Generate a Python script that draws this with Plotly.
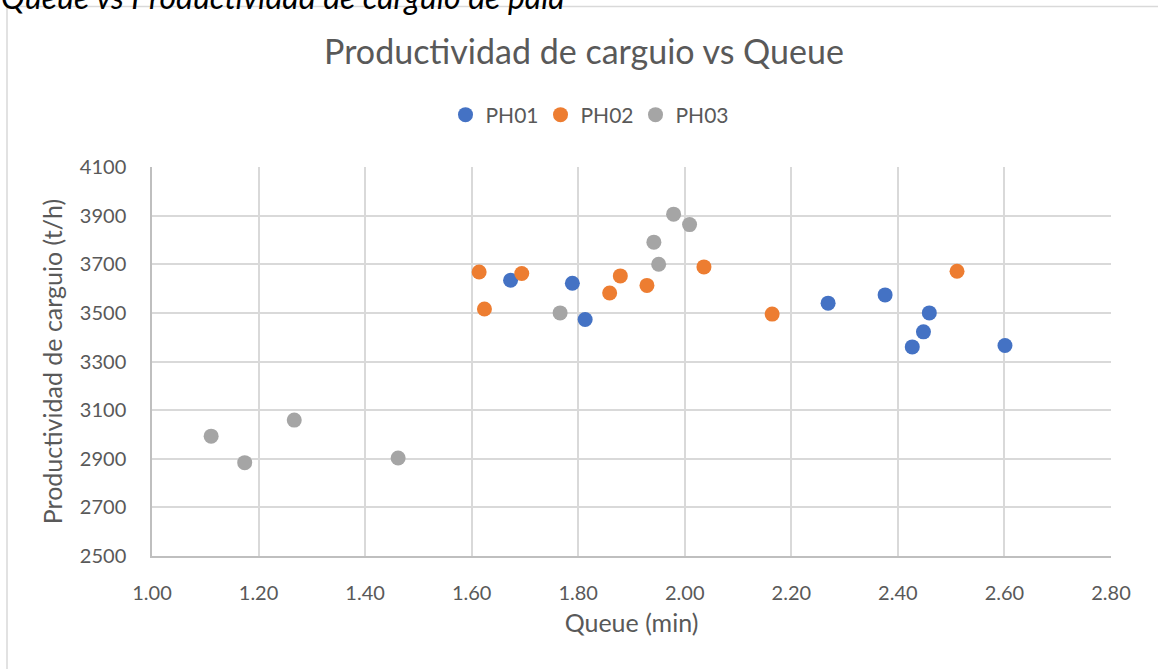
import plotly.graph_objects as go

# ---- data ----
ph01_x = [1.673, 1.789, 1.813, 2.269, 2.376, 2.427, 2.448, 2.459, 2.601]
ph01_y = [3634, 3622, 3473, 3540, 3574, 3360, 3422, 3500, 3366]

ph02_x = [1.614, 1.624, 1.694, 1.859, 1.879, 1.929, 2.036, 2.164, 2.511]
ph02_y = [3668, 3516, 3662, 3582, 3652, 3613, 3689, 3495, 3671]

ph03_x = [1.111, 1.174, 1.267, 1.462, 1.766, 1.942, 1.951, 1.979, 2.009]
ph03_y = [2993, 2884, 3059, 2903, 3500, 3791, 3700, 3906, 3863]

series_names = ["PH01", "PH02", "PH03"]
x_ticks = [1.0, 1.2, 1.4, 1.6, 1.8, 2.0, 2.2, 2.4, 2.6, 2.8]
y_ticks = [2500, 2700, 2900, 3100, 3300, 3500, 3700, 3900, 4100]

colors = ["#4472C4", "#ED7D31", "#A5A5A5"]
FONT = "Lato"
GREY_TXT = "#595959"

W, H = 1158, 669
L, R, T, B = 152, 47, 167, 113
PW, PH = W - L - R, H - T - B


def px_x(p):
    return (p - L) / PW


def px_y(p):
    return (H - B - p) / PH


fig = go.Figure()
for name, xs, ys, c in zip(series_names, [ph01_x, ph02_x, ph03_x],
                           [ph01_y, ph02_y, ph03_y], colors):
    fig.add_trace(go.Scatter(x=xs, y=ys, mode="markers", name=name,
                             marker=dict(color=c, size=15, line=dict(width=0))))

fig.update_layout(
    width=W, height=H,
    margin=dict(l=L, r=R, t=T, b=B),
    paper_bgcolor="white", plot_bgcolor="white",
    font=dict(family=FONT, color=GREY_TXT),
    title=dict(text="Productividad de carguio vs Queue",
               font=dict(family=FONT, size=34, color=GREY_TXT),
               xref="paper", x=px_x(584), xanchor="center",
               yref="container", y=1 - 52 / H, yanchor="middle"),
    legend=dict(orientation="h", xanchor="center", x=px_x(588),
                yanchor="middle", y=px_y(115),
                font=dict(family=FONT, size=21, color=GREY_TXT),
                bgcolor="rgba(0,0,0,0)", itemwidth=30,
                entrywidth=50, entrywidthmode="pixels"),
    showlegend=True,
)

fig.update_xaxes(range=[1.0, 2.8], tickvals=x_ticks,
                 ticktext=[f"{v:.2f}" for v in x_ticks],
                 showgrid=True, gridcolor="#d9d9d9", gridwidth=1.5,
                 showline=True, linecolor="#bfbfbf", linewidth=1.5,
                 zeroline=False, ticks="", ticklabelstandoff=18,
                 tickfont=dict(family=FONT, size=20, color=GREY_TXT),
                 title=dict(text="Queue (min)", standoff=12,
                            font=dict(family=FONT, size=25, color=GREY_TXT)))
fig.update_yaxes(range=[2500, 4100], tickvals=y_ticks,
                 showgrid=True, gridcolor="#d9d9d9", gridwidth=1.5,
                 showline=True, linecolor="#bfbfbf", linewidth=1.5,
                 zeroline=False, ticks="", ticklabelstandoff=20,
                 tickfont=dict(family=FONT, size=20, color=GREY_TXT),
                 title=dict(text="Productividad de carguio (t/h)", standoff=10,
                            font=dict(family=FONT, size=25, color=GREY_TXT)))

# outer chart frame (left & top visible)
fig.add_shape(type="rect", xref="paper", yref="paper",
              x0=px_x(7), x1=px_x(1175), y0=px_y(690), y1=px_y(6.5),
              line=dict(color="#d9d9d9", width=1.5), fillcolor="rgba(0,0,0,0)",
              layer="below")

# caption cut off at top of page
fig.add_annotation(text="Queue vs Productividad de carguio de pala",
                   xref="paper", yref="paper", x=px_x(-1), y=px_y(-3),
                   xanchor="left", yanchor="middle", showarrow=False,
                   font=dict(family=FONT, size=32, color="black", style="italic"))

fig.write_html("out.html")
